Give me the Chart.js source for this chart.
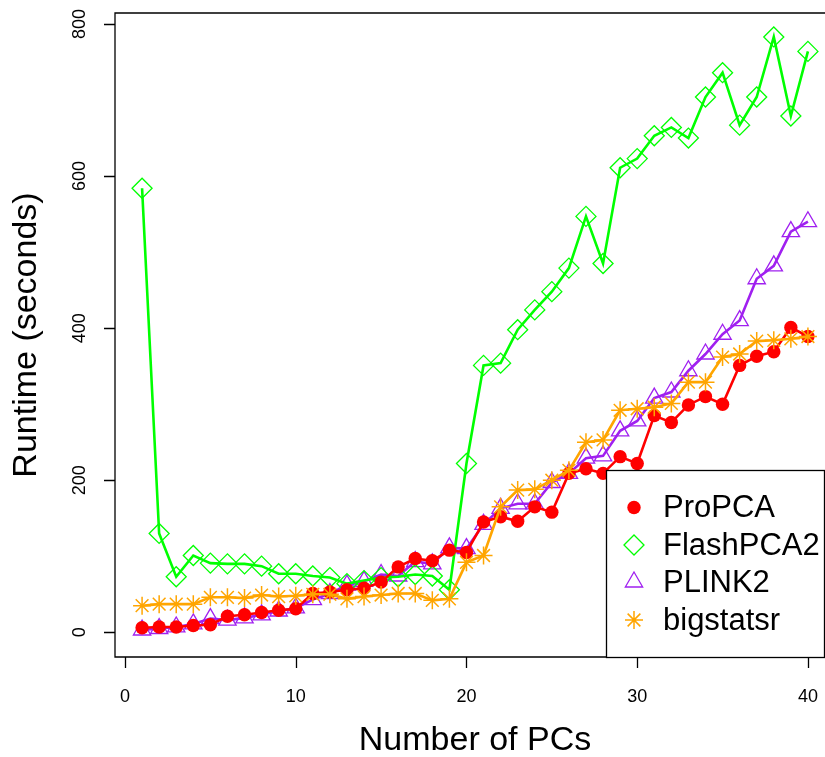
<!DOCTYPE html>
<html>
<head>
<meta charset="utf-8">
<script src="https://cdn.jsdelivr.net/npm/chart.js@4/dist/chart.umd.min.js"></script>
<style>
  html, body { margin: 0; padding: 0; background: #fff; overflow: hidden; }
  #wrap { width: 825px; height: 757px; }
</style>
</head>
<body>
<div id="wrap"><canvas id="c" width="825" height="757"></canvas></div>
<script>
// Number of principal components computed
const pcs = [1,2,3,4,5,6,7,8,9,10,11,12,13,14,15,16,17,18,19,20,
             21,22,23,24,25,26,27,28,29,30,31,32,33,34,35,36,37,38,39,40];

// Runtime in seconds for each method
const propca    = [6,7,7,9,10,21,23,26,29,31,51,53,56,58,66,86,97,94,108,105,
                   145,152,146,165,158,209,215,209,231,222,285,276,299,310,300,351,363,369,401,389];
const flashpca2 = [584,130,73,101,91,90,90,87,77,77,74,72,64,68,72,73,76,74,56,222,
                   351,354,398,424,448,479,547,485,611,623,653,664,650,704,736,667,704,783,679,764];
const plink2    = [3,5,7,11,18,16,19,23,28,32,43,51,62,67,76,74,93,90,111,110,
                   142,163,169,169,197,209,229,232,265,278,308,316,344,366,392,410,465,482,527,540];
const bigstatsr = [35,37,37,37,46,46,45,49,47,48,50,50,44,47,49,51,51,42,44,92,
                   101,165,187,188,200,213,250,253,292,294,296,301,329,329,362,366,383,384,386,389];

// Axis ticks and titles
const xTicks = [0, 10, 20, 30, 40];
const yTicks = [0, 200, 400, 600, 800];
const xTitle = 'Number of PCs';
const yTitle = 'Runtime (seconds)';
const seriesNames = ['ProPCA', 'FlashPCA2', 'PLINK2', 'bigstatsr'];

const FONT = '"Liberation Sans", Arial, Helvetica, sans-serif';
const COLORS = { red: '#FF0000', green: '#00FF00', purple: '#A020F0', orange: '#FFA500' };

const toPoints = vals => vals.map((v, i) => ({ x: pcs[i], y: v }));

const legendItems = [
  { name: seriesNames[0], style: 'circle',  radius: 6.7, color: COLORS.red,    fill: true,  bw: 0 },
  { name: seriesNames[1], style: 'rectRot', radius: 10,  color: COLORS.green,  fill: false, bw: 1.3 },
  { name: seriesNames[2], style: 'triangle',radius: 10,  color: COLORS.purple, fill: false, bw: 1.3 },
  { name: seriesNames[3], style: 'star',    radius: 9,   color: COLORS.orange, fill: false, bw: 1.5 }
];

// Box, ticks, labels, titles and legend in base-graphics style
const framePlugin = {
  id: 'frame',
  afterDatasetsDraw(chart) {
    const ctx = chart.ctx;
    const a = chart.chartArea;
    const xs = chart.scales.x, ys = chart.scales.y;
    ctx.save();
    ctx.strokeStyle = '#000';
    ctx.lineWidth = 1.3;
    // plot box (its right side lies just past the canvas edge)
    ctx.beginPath();
    ctx.moveTo(a.right + 5, a.top);
    ctx.lineTo(a.left, a.top);
    ctx.lineTo(a.left, a.bottom);
    ctx.lineTo(a.right + 5, a.bottom);
    ctx.stroke();

    // x ticks
    ctx.beginPath();
    xTicks.forEach(t => {
      const px = Math.round(xs.getPixelForValue(t)) + 0.5;
      ctx.moveTo(px, a.bottom);
      ctx.lineTo(px, a.bottom + 11);
    });
    // y ticks
    yTicks.forEach(t => {
      const py = Math.round(ys.getPixelForValue(t)) + 0.5;
      ctx.moveTo(a.left, py);
      ctx.lineTo(a.left - 11, py);
    });
    ctx.stroke();

    ctx.fillStyle = '#000';
    ctx.font = '18px ' + FONT;
    ctx.textAlign = 'center';
    ctx.textBaseline = 'middle';
    xTicks.forEach(t => {
      ctx.fillText(String(t), xs.getPixelForValue(t), 697);
    });
    yTicks.forEach(t => {
      ctx.save();
      ctx.translate(80, ys.getPixelForValue(t));
      ctx.rotate(-Math.PI / 2);
      ctx.fillText(String(t), 0, 0);
      ctx.restore();
    });

    ctx.font = '34px ' + FONT;
    ctx.fillText(xTitle, 475, 741);
    ctx.save();
    ctx.translate(27, (a.top + a.bottom) / 2);
    ctx.rotate(-Math.PI / 2);
    ctx.fillText(yTitle, 0, 0);
    ctx.restore();

    // legend
    const lx = 606, ly = 470, lr = 824, lb = a.bottom;
    ctx.fillStyle = '#fff';
    ctx.fillRect(lx, ly, lr - lx, lb - ly);
    ctx.strokeStyle = '#000';
    ctx.lineWidth = 1.3;
    ctx.strokeRect(lx + 0.5, ly + 0.5, lr - lx, lb - ly);
    const rowY = [507.5, 545, 582, 620];
    legendItems.forEach((it, i) => {
      ctx.save();
      ctx.strokeStyle = it.color;
      ctx.fillStyle = it.fill ? it.color : 'rgba(0,0,0,0)';
      ctx.lineWidth = it.bw;
      Chart.helpers.drawPoint(ctx, { pointStyle: it.style, radius: it.radius, rotation: 0, borderWidth: it.bw }, 634, rowY[i]);
      ctx.restore();
      ctx.fillStyle = '#000';
      ctx.font = '31px ' + FONT;
      ctx.textAlign = 'left';
      ctx.textBaseline = 'middle';
      ctx.fillText(it.name, 663, rowY[i] + 1);
    });
    ctx.restore();
  }
};

const mk = (label, vals, color, style, radius, filled, pbw, order) => ({
  label,
  data: toPoints(vals),
  borderColor: color,
  backgroundColor: color,
  borderWidth: 2.6,
  pointStyle: style,
  pointRadius: radius,
  pointHoverRadius: radius,
  pointBackgroundColor: filled ? color : 'rgba(0,0,0,0)',
  pointBorderColor: color,
  pointBorderWidth: pbw,
  tension: 0,
  order,
  clip: false
});

new Chart(document.getElementById('c'), {
  type: 'line',
  data: {
    datasets: [
      mk(seriesNames[0], propca,    COLORS.red,    'circle',   6.7, true,  0,   1),
      mk(seriesNames[1], flashpca2, COLORS.green,  'rectRot',  10,  false, 1.3, 2),
      mk(seriesNames[2], plink2,    COLORS.purple, 'triangle', 10,  false, 1.3, 3),
      mk(seriesNames[3], bigstatsr, COLORS.orange, 'star',     9,   false, 1.5, 0)
    ]
  },
  options: {
    responsive: false,
    animation: false,
    devicePixelRatio: 1,
    layout: { autoPadding: false, padding: { left: 115, top: 13, right: 0, bottom: 100 } },
    plugins: { legend: { display: false }, tooltip: { enabled: false } },
    events: [],
    scales: {
      x: { type: 'linear', min: -0.586, max: 41.0, display: false },
      y: { type: 'linear', min: -32.5, max: 814.5, display: false }
    }
  },
  plugins: [framePlugin]
});
</script>
</body>
</html>
